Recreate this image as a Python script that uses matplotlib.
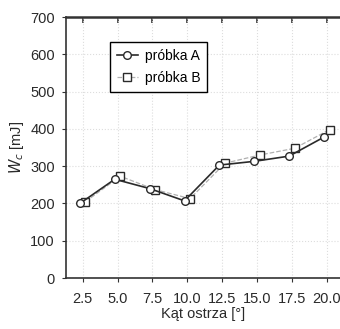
import numpy as np
import matplotlib
matplotlib.use('Agg')
from matplotlib import pyplot as plt

plt.rcParams['font.family'] = ['Liberation Sans', 'DejaVu Sans']
plt.rcParams['font.size'] = 10.5

katy = [2.5, 5.0, 7.5, 10.0, 12.5, 15.0, 17.5, 20.0]
probka_a = [200, 265, 240, 207, 303, 313, 327, 378]
probka_b = [205, 273, 237, 213, 308, 330, 348, 398]

x = np.array(katy)

fig = plt.figure(figsize=(3.4, 3.29), dpi=100)
ax = fig.add_axes([0.194, 0.155, 0.806, 0.793])

ax.plot(x - 0.2, probka_a, '-', color='#2a2a2a', lw=1.2, marker='o',
        markersize=5.5, markerfacecolor='white', markeredgecolor='#2a2a2a',
        markeredgewidth=1.0, label='próbka A', zorder=3)
ax.plot(x + 0.2, probka_b, '--', color='#b0b0b0', lw=0.9, marker='s',
        markersize=5.5, markerfacecolor='white', markeredgecolor='#2a2a2a',
        markeredgewidth=1.0, label='próbka B', zorder=2)

ax.set_xlim(1.3, 20.95)
ax.set_ylim(0, 700)
ax.set_xticks(katy)
ax.set_xticklabels(['%.1f' % k for k in katy])
ax.set_yticks(range(0, 701, 100))

ax.grid(True, color='#dddddd', linestyle=':', linewidth=0.8)
ax.set_axisbelow(True)

for s in ['left', 'bottom', 'top']:
    ax.spines[s].set_color('#333333')
    ax.spines[s].set_linewidth(1.2)
ax.spines['top'].set_linewidth(1.8)
ax.spines['right'].set_visible(False)

ax.tick_params(axis='both', direction='out', length=3, color='#333333',
               labelcolor='#2a2a2a', labelsize=10.5)
ax.tick_params(axis='x', pad=7)
ax.tick_params(axis='y', pad=5)
# krotkie kreski skierowane do srodka na gornej osi
sec = ax.secondary_xaxis('top')
sec.set_xticks(katy)
sec.set_xticklabels([])
sec.tick_params(direction='in', length=4, color='#333333', width=1.2)
sec.spines['top'].set_visible(False)

ax.set_xlabel('Kąt ostrza [°]', labelpad=1, fontsize=10.5, color='#2a2a2a')
ax.set_ylabel('$W_c$ [mJ]', labelpad=3, fontsize=10.5, color='#2a2a2a')

leg = ax.legend(loc='upper left', bbox_to_anchor=(0.16, 0.905), frameon=True,
                fancybox=False, edgecolor='black', framealpha=1,
                borderaxespad=0, handlelength=1.5, borderpad=0.5,
                labelspacing=0.6, handletextpad=0.5, fontsize=10)
leg.get_frame().set_linewidth(1.0)

fig.savefig('out.png', dpi=100)
